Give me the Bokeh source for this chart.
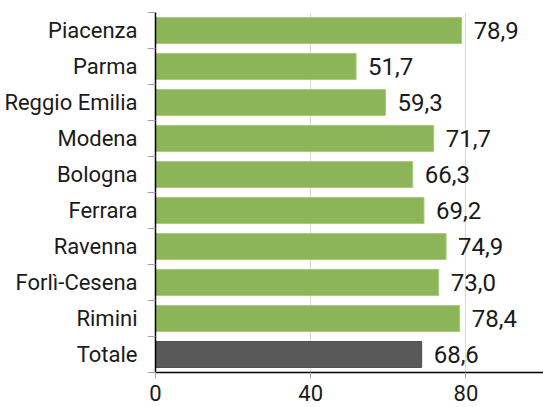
from bokeh.plotting import figure
from bokeh.models import ColumnDataSource, FixedTicker, LinearAxis, Range1d
from bokeh.embed import file_html
from bokeh.resources import INLINE

categories = ["Piacenza", "Parma", "Reggio Emilia", "Modena", "Bologna",
              "Ferrara", "Ravenna", "Forlì-Cesena", "Rimini", "Totale"]
values = [78.9, 51.7, 59.3, 71.7, 66.3, 69.2, 74.9, 73.0, 78.4, 68.6]
x_ticks = [0, 40, 80]

GREEN = "#8bb558"
DARK = "#595959"
FONT = "Roboto"

n = len(categories)
ypos = [n - 1 - i for i in range(n)]
colors = [DARK if c == "Totale" else GREEN for c in categories]
lines = ["#4d4d4d" if c == "Totale" else "#a8cc7c" for c in categories]
labels = [f"{v:.1f}".replace(".", ",") for v in values]

src = ColumnDataSource(dict(y=ypos, v=values, c=colors, lc=lines, lab=labels))

p = figure(width=543, height=407, output_backend="svg", toolbar_location=None,
           x_range=Range1d(0, 100), y_range=Range1d(-0.5, n - 0.5),
           min_border_left=155, min_border_top=12, min_border_bottom=35,
           min_border_right=0, x_axis_location=None, y_axis_location=None)
p.outline_line_color = None
p.background_fill_color = "white"

p.hbar(y="y", right="v", left=0, height=0.72, fill_color="c", line_color="lc",
       line_width=1, source=src)
p.text(x="v", y="y", text="lab", x_offset=12, text_baseline="middle",
       text_align="left", text_font_size="24px", text_color="#1a1a1a",
       text_font={"value": FONT}, source=src)

xaxis = LinearAxis(ticker=FixedTicker(ticks=x_ticks))
xaxis.axis_line_color = "black"
xaxis.axis_line_width = 1.5
xaxis.major_tick_line_color = "#a6a6a6"
xaxis.major_tick_in = 0
xaxis.major_tick_out = 6
xaxis.minor_tick_line_color = None
xaxis.major_label_text_font = FONT
xaxis.major_label_text_font_size = "22px"
xaxis.major_label_text_color = "#1a1a1a"
xaxis.major_label_standoff = 6
p.add_layout(xaxis, "below")

yaxis = LinearAxis(ticker=FixedTicker(ticks=ypos,
                                      minor_ticks=[i - 0.5 for i in range(n + 1)]))
yaxis.major_label_overrides = {y: c for y, c in zip(ypos, categories)}
yaxis.axis_line_color = "black"
yaxis.axis_line_width = 1.5
yaxis.major_tick_line_color = None
yaxis.major_tick_in = 0
yaxis.major_tick_out = 0
yaxis.minor_tick_line_color = "#a6a6a6"
yaxis.minor_tick_in = 0
yaxis.minor_tick_out = 8
yaxis.major_label_text_font = FONT
yaxis.major_label_text_font_size = "22px"
yaxis.major_label_text_color = "#1a1a1a"
yaxis.major_label_standoff = 10
p.add_layout(yaxis, "left")

p.xgrid.ticker = FixedTicker(ticks=[40, 80])
p.xgrid.grid_line_color = "#d9d9d9"
p.ygrid.grid_line_color = None

open("out.html", "w").write(file_html(p, INLINE))
